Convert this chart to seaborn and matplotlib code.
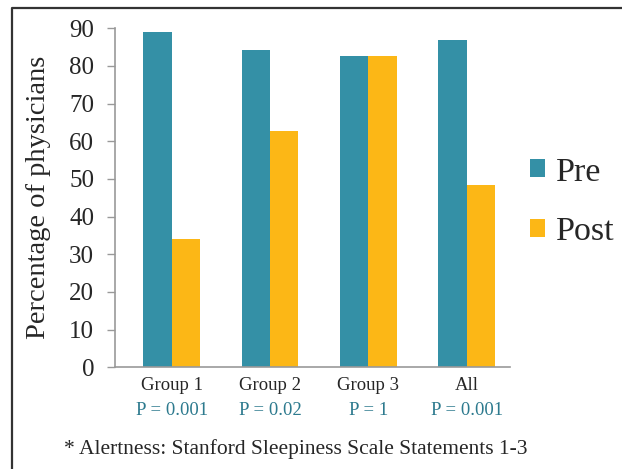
import matplotlib
matplotlib.use("Agg")
import matplotlib.pyplot as plt
import seaborn as sns
import pandas as pd
from matplotlib.patches import Patch
from matplotlib.lines import Line2D
import matplotlib.transforms as mtransforms

groups = ["Group 1", "Group 2", "Group 3", "All"]
pre_values = [89.1, 84.2, 82.6, 87.0]
post_values = [34.1, 62.8, 82.6, 48.5]
p_labels = ["P = 0.001", "P = 0.02", "P = 1", "P = 0.001"]
series = ["Pre", "Post"]
yticks = [0, 10, 20, 30, 40, 50, 60, 70, 80, 90]
footnote = "* Alertness: Stanford Sleepiness Scale Statements 1-3"

colors = {"Pre": "#3490A6", "Post": "#FCB716"}
p_color = "#2D7A8E"

df = pd.DataFrame({
    "group": groups * 2,
    "series": ["Pre"] * len(groups) + ["Post"] * len(groups),
    "value": pre_values + post_values,
})

sns.set_style("white")
plt.rcParams["font.family"] = ["Liberation Serif", "DejaVu Serif"]

fig = plt.figure(figsize=(6.22, 4.69), dpi=100)
ax = fig.add_axes([115 / 622, 1 - 367.3 / 469, (510 - 115) / 622, (367.3 - 28.3) / 469])

sns.barplot(data=df, x="group", y="value", hue="series", order=groups,
            hue_order=series, palette=colors, saturation=1, width=0.576,
            linewidth=0, ax=ax, legend=False)

ax.set_xlim(-0.577, 3.44)
ax.set_ylim(0, 90)
ax.set_yticks(yticks)
ax.set_yticklabels([str(t) for t in yticks], fontsize=18)
ax.set_xlabel("")
ax.set_ylabel("Percentage of physicians", fontsize=20.5, labelpad=13)
ax.set_xticks(range(len(groups)))
ax.set_xticklabels(groups, fontsize=13.5)
ax.tick_params(axis="x", length=0, pad=7)
ax.tick_params(axis="y", length=6, width=1, color="#999999", pad=9, direction="out", left=True)
for s in ["top", "right"]:
    ax.spines[s].set_visible(False)
for s in ["left", "bottom"]:
    ax.spines[s].set_color("#999999")
    ax.spines[s].set_linewidth(1.2)

trans = mtransforms.blended_transform_factory(ax.transData, fig.transFigure)
for i, lab in enumerate(p_labels):
    ax.text(i, 1 - 410 / 469, lab, transform=trans, ha="center", va="center",
            fontsize=13.5, color=p_color)

handles = [Patch(facecolor=colors[s], edgecolor="none") for s in series]
fig.legend(handles, series, loc="center left", bbox_to_anchor=(527 / 622, 1 - 202 / 469),
           frameon=False, fontsize=24.5, handlelength=0.44, handleheight=0.44,
           handletextpad=0.3, labelspacing=0.85, borderpad=0.1, borderaxespad=0)

fig.text(296 / 622, 1 - 449 / 469, footnote, ha="center", va="center", fontsize=15.5)

fig.add_artist(Line2D([12.3 / 622, 12.3 / 622, 1.0], [0, 1 - 8.3 / 469, 1 - 8.3 / 469],
                      transform=fig.transFigure, color="#333333", linewidth=1.6))

fig.savefig("out.png", dpi=100)
